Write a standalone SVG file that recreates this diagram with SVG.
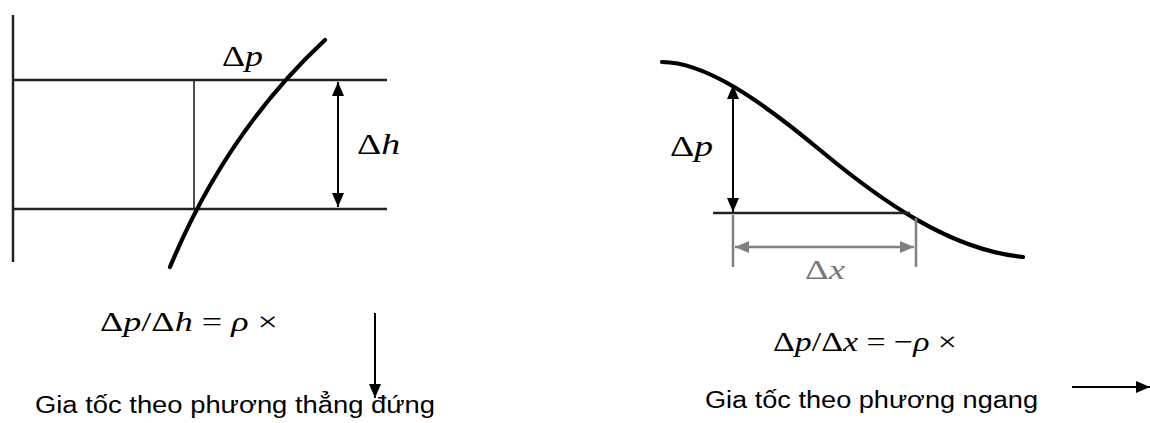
<svg xmlns="http://www.w3.org/2000/svg" width="1150" height="423" viewBox="0 0 1150 423">
<style>
.bg{fill:#fff}
.curve{fill:none;stroke:#000;stroke-width:4.2;stroke-linecap:round}
.line{fill:none;stroke:#222;stroke-width:2.5}
.thin{fill:none;stroke:#222;stroke-width:1.6}
.arr{fill:none;stroke:#000;stroke-width:2}
.gray{fill:none;stroke:#808080;stroke-width:2.5}
.math{font-family:"Liberation Serif","Times New Roman",serif;fill:#000}
.cap{font-family:"Liberation Sans",Arial,sans-serif;fill:#000;font-size:23px}
.it{font-style:italic}
</style>
<defs>
<marker id="ah" viewBox="0 0 14 12" refX="14" refY="6" markerWidth="14" markerHeight="12" markerUnits="userSpaceOnUse" orient="auto-start-reverse">
<path d="M0,0 L14,6 L0,12 Z" fill="#000"/>
</marker>
<marker id="ahg" viewBox="0 0 14 12" refX="14" refY="6" markerWidth="14" markerHeight="12" markerUnits="userSpaceOnUse" orient="auto-start-reverse">
<path d="M0,0 L14,6 L0,12 Z" fill="#808080"/>
</marker>
</defs>
<rect class="bg" x="0" y="0" width="1150" height="423"/>

<g id="vertical-figure">
<line class="line" x1="13" y1="15" x2="13" y2="262" stroke-width="3"/>
<line class="line" x1="13" y1="80" x2="387" y2="80"/>
<line class="line" x1="13" y1="209" x2="387" y2="209"/>
<line class="thin" x1="194" y1="80" x2="194" y2="209"/>
<path class="curve" d="M170,267 Q226,132 325,40"/>
<text class="math" x="222" y="66" font-size="30" textLength="41" lengthAdjust="spacingAndGlyphs">Δ<tspan class="it">p</tspan></text>
<text class="math" x="357" y="154" font-size="30" textLength="43" lengthAdjust="spacingAndGlyphs">Δ<tspan class="it">h</tspan></text>
</g>

<g id="vertical-formula">
<text class="math" x="100" y="331" font-size="28" textLength="178" lengthAdjust="spacingAndGlyphs">Δ<tspan class="it">p</tspan>/Δ<tspan class="it">h</tspan> = <tspan class="it">ρ</tspan> ×</text>
</g>

<g id="vertical-caption">
<text class="cap" x="35" y="413" textLength="400" lengthAdjust="spacingAndGlyphs">Gia tốc theo phương thẳng đứng</text>
</g>

<g id="horizontal-figure">
<path class="curve" d="M662,62 C705,62 760,100 820,150 S950,250 1023,257"/>
<line class="line" x1="713" y1="213" x2="910" y2="213"/>
<line class="gray" x1="733" y1="215" x2="733" y2="267"/>
<line class="gray" x1="916" y1="218" x2="916" y2="267"/>
<text class="math" x="670" y="156" font-size="30" textLength="43" lengthAdjust="spacingAndGlyphs">Δ<tspan class="it">p</tspan></text>
<text class="math" x="805" y="279" font-size="28" style="fill:#777" textLength="40" lengthAdjust="spacingAndGlyphs">Δ<tspan class="it">x</tspan></text>
</g>

<g id="horizontal-formula">
<text class="math" x="773" y="351" font-size="28" textLength="184" lengthAdjust="spacingAndGlyphs">Δ<tspan class="it">p</tspan>/Δ<tspan class="it">x</tspan> = −<tspan class="it">ρ</tspan> ×</text>
</g>

<g id="horizontal-caption">
<text class="cap" x="705" y="408" textLength="333" lengthAdjust="spacingAndGlyphs">Gia tốc theo phương ngang</text>
</g>

<g id="connectors">
<line class="arr" x1="338" y1="82" x2="338" y2="207" marker-start="url(#ah)" marker-end="url(#ah)"/>
<line class="arr" x1="733" y1="85" x2="733" y2="212" marker-start="url(#ah)" marker-end="url(#ah)"/>
<line class="gray" x1="735" y1="247" x2="914" y2="247" marker-start="url(#ahg)" marker-end="url(#ahg)"/>
<line class="arr" x1="375" y1="313" x2="375" y2="398" marker-end="url(#ah)"/>
<line class="arr" x1="1072" y1="387" x2="1150" y2="387" marker-end="url(#ah)"/>
</g>
</svg>
